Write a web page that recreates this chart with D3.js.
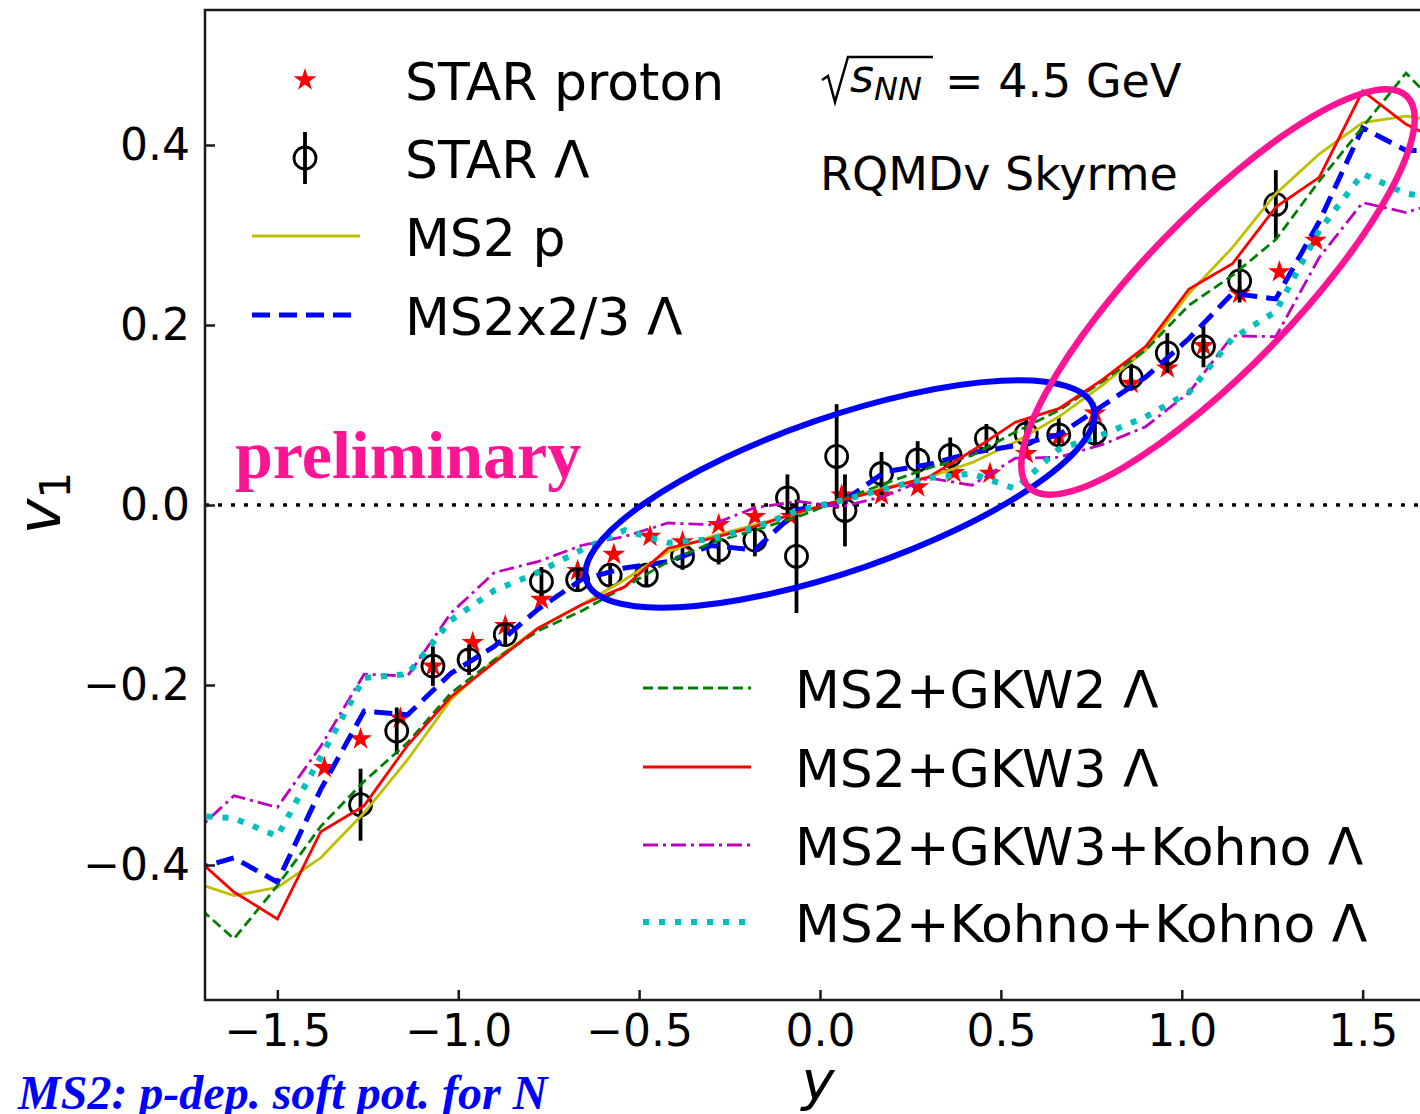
<!DOCTYPE html>
<html>
<head>
<meta charset="utf-8">
<script src="https://cdn.jsdelivr.net/npm/d3@7"></script>
<style>
body { margin: 0; background: #fff; overflow: hidden; }
svg { display: block; }
.axis text { font-family: "DejaVu Sans"; font-size: 44px; fill: #000; }
.axis line { stroke: #1a1a1a; stroke-width: 2.5; }
.lbl { font-family: "DejaVu Sans"; fill: #000; }
</style>
</head>
<body>
<div id="chart"></div>
<script>
// model rapidity grid (bins of 0.12)
const xModel = [-1.74, -1.62, -1.50, -1.38, -1.26, -1.14, -1.02, -0.90, -0.78, -0.66, -0.54, -0.42, -0.30, -0.18, -0.06,
                 0.06, 0.18, 0.30, 0.42, 0.54, 0.66, 0.78, 0.90, 1.02, 1.14, 1.26, 1.38, 1.50, 1.62, 1.74];

const ms2P = [-0.418, -0.434, -0.425, -0.392, -0.342, -0.283, -0.216, -0.172, -0.137, -0.111, -0.083, -0.052, -0.035, -0.022, -0.009,
               0.006, 0.019, 0.031, 0.047, 0.070, 0.098, 0.133, 0.172, 0.235, 0.286, 0.346, 0.390, 0.425, 0.432, 0.425];
const ms2Lambda = [-0.406, -0.392, -0.419, -0.316, -0.229, -0.233, -0.187, -0.157, -0.116, -0.083, -0.070, -0.063, -0.045, -0.050, -0.005,
                    0.003, 0.037, 0.045, 0.058, 0.066, 0.078, 0.110, 0.142, 0.185, 0.235, 0.229, 0.315, 0.419, 0.394, 0.394];
const gkw2 = [-0.439, -0.482, -0.423, -0.357, -0.307, -0.264, -0.209, -0.172, -0.140, -0.118, -0.091, -0.063, -0.042, -0.028, -0.013,
               0.006, 0.024, 0.041, 0.055, 0.081, 0.105, 0.137, 0.172, 0.222, 0.255, 0.295, 0.360, 0.420, 0.480, 0.430];
const gkw3 = [-0.387, -0.430, -0.460, -0.363, -0.334, -0.267, -0.213, -0.175, -0.137, -0.111, -0.091, -0.048, -0.037, -0.024, -0.008,
               0.005, 0.018, 0.031, 0.060, 0.092, 0.107, 0.139, 0.176, 0.240, 0.268, 0.331, 0.364, 0.460, 0.423, 0.400];
const gkw3Kohno = [-0.368, -0.323, -0.336, -0.268, -0.188, -0.190, -0.120, -0.075, -0.063, -0.045, -0.035, -0.020, -0.022, -0.003, 0.004,
                   -0.002, 0.010, 0.030, 0.022, 0.052, 0.053, 0.067, 0.087, 0.125, 0.188, 0.187, 0.275, 0.336, 0.325, 0.340];
const kohnoKohno = [-0.345, -0.348, -0.368, -0.280, -0.192, -0.188, -0.128, -0.095, -0.075, -0.050, -0.028, -0.042, -0.038, -0.025, -0.006,
                     0.005, 0.018, 0.030, 0.035, 0.018, 0.062, 0.078, 0.098, 0.125, 0.185, 0.215, 0.305, 0.368, 0.346, 0.340];

// STAR data
const protonY = [-1.37, -1.27, -1.16, -1.07, -0.96, -0.87, -0.77, -0.67, -0.57, -0.47, -0.38, -0.28, -0.18, -0.08,
                  0.06, 0.17, 0.27, 0.37, 0.47, 0.57, 0.66, 0.76, 0.86, 0.96, 1.06, 1.16, 1.27, 1.37];
const protonV1 = [-0.292, -0.260, -0.237, -0.179, -0.153, -0.134, -0.105, -0.073, -0.055, -0.035, -0.041, -0.022, -0.013, -0.013,
                   0.011, 0.011, 0.020, 0.036, 0.035, 0.057, 0.076, 0.102, 0.135, 0.152, 0.177, 0.235, 0.259, 0.294];

const lambdaY = [-1.27, -1.17, -1.07, -0.97, -0.87, -0.77, -0.67, -0.58, -0.48, -0.38, -0.28, -0.18, -0.09, -0.065,
                  0.046, 0.069, 0.17, 0.27, 0.36, 0.46, 0.57, 0.66, 0.76, 0.86, 0.96, 1.06, 1.16, 1.26];
const lambdaV1 = [-0.333, -0.251, -0.179, -0.172, -0.144, -0.085, -0.083, -0.078, -0.078, -0.057, -0.050, -0.039, 0.008, -0.057,
                   0.054, -0.006, 0.035, 0.050, 0.055, 0.074, 0.079, 0.078, 0.080, 0.142, 0.169, 0.176, 0.249, 0.334];
const lambdaErr = [0.040, 0.026, 0.022, 0.017, 0.013, 0.016, 0.012, 0.011, 0.012, 0.015, 0.016, 0.018, 0.026, 0.063,
                   0.058, 0.040, 0.024, 0.021, 0.020, 0.016, 0.016, 0.019, 0.016, 0.015, 0.022, 0.023, 0.024, 0.038];

const xTicks = [-1.5, -1.0, -0.5, 0.0, 0.5, 1.0, 1.5];
const yTicks = [-0.4, -0.2, 0.0, 0.2, 0.4];

const legendTop = ['STAR proton', 'STAR \u039B', 'MS2 p', 'MS2x2/3 \u039B'];
const legendBottom = ['MS2+GKW2 \u039B', 'MS2+GKW3 \u039B', 'MS2+GKW3+Kohno \u039B', 'MS2+Kohno+Kohno \u039B'];

const W = 1420, H = 1114;
const plot = { left: 205, right: 1435, top: 10, bottom: 1000 };

const svg = d3.select('#chart').append('svg')
    .attr('width', W).attr('height', H);

const x = d3.scaleLinear().domain([-1.7, 1.7]).range([plot.left, plot.right]);
const y = d3.scaleLinear().domain([-0.55, 0.55]).range([plot.bottom, plot.top]);

svg.append('clipPath').attr('id', 'clip')
  .append('rect')
    .attr('x', plot.left).attr('y', plot.top)
    .attr('width', plot.right - plot.left).attr('height', plot.bottom - plot.top);

const models = [
    { label: 'MS2 p', v: ms2P, color: '#bfbf00', width: 2.8, dash: null },
    { label: 'MS2x2/3', v: ms2Lambda, color: '#0000ff', width: 5, dash: '18 9' },
    { label: 'GKW2', v: gkw2, color: '#008000', width: 2.8, dash: '10 5' },
    { label: 'GKW3', v: gkw3, color: '#ff0000', width: 2.8, dash: null },
    { label: 'GKW3+Kohno', v: gkw3Kohno, color: '#bf00bf', width: 2.8, dash: '15 5 3 5' },
    { label: 'Kohno+Kohno', v: kohnoKohno, color: '#00bfbf', width: 6, dash: '6 10' }
];

const g = svg.append('g').attr('clip-path', 'url(#clip)');

// zero line
g.append('line')
    .attr('x1', plot.left).attr('x2', plot.right)
    .attr('y1', y(0)).attr('y2', y(0))
    .attr('stroke', '#000').attr('stroke-width', 3.5)
    .attr('stroke-dasharray', '4 9');

// STAR proton stars
const star = d3.symbol().type(d3.symbolStar).size(160);
g.selectAll('.pstar')
  .data(protonY.map((d, i) => ({ y: d, v: protonV1[i] })))
  .enter().append('path')
    .attr('class', 'pstar')
    .attr('d', star)
    .attr('transform', d => `translate(${x(d.y)},${y(d.v)})`)
    .attr('fill', '#ff0000');

// STAR Lambda with error bars
const lam = lambdaY.map((d, i) => ({ y: d, v: lambdaV1[i], e: lambdaErr[i] }));
g.selectAll('.lerr')
  .data(lam)
  .enter().append('line')
    .attr('x1', d => x(d.y)).attr('x2', d => x(d.y))
    .attr('y1', d => y(d.v - d.e)).attr('y2', d => y(d.v + d.e))
    .attr('stroke', '#000').attr('stroke-width', 3.8);
g.selectAll('.ldot')
  .data(lam)
  .enter().append('circle')
    .attr('cx', d => x(d.y)).attr('cy', d => y(d.v))
    .attr('r', 11)
    .attr('fill', 'none').attr('stroke', '#000').attr('stroke-width', 2.8);

// model curves
const line = d3.line().x((d, i) => x(xModel[i])).y(d => y(d));
models.forEach(m => {
    g.append('path')
        .datum(m.v)
        .attr('d', line)
        .attr('fill', 'none')
        .attr('stroke', m.color)
        .attr('stroke-width', m.width)
        .attr('stroke-dasharray', m.dash);
});

// axes
svg.append('g')
    .attr('class', 'axis')
    .attr('transform', `translate(0,${plot.bottom})`)
    .call(d3.axisBottom(x).tickValues(xTicks).tickFormat(d3.format('.1f')).tickSize(-10).tickPadding(15))
    .call(a => a.select('.domain').remove());

svg.append('g')
    .attr('class', 'axis')
    .attr('transform', `translate(${plot.left},0)`)
    .call(d3.axisLeft(y).tickValues(yTicks).tickFormat(d3.format('.1f')).tickSize(-10).tickPadding(15))
    .call(a => a.select('.domain').remove());

// spines
svg.append('path')
    .attr('d', `M${plot.right},${plot.top}H${plot.left}V${plot.bottom}H${plot.right}`)
    .attr('fill', 'none').attr('stroke', '#1a1a1a').attr('stroke-width', 2.5);

// axis labels
const yl = svg.append('text')
    .attr('class', 'lbl')
    .attr('transform', 'translate(60,503) rotate(-90)')
    .attr('text-anchor', 'middle')
    .style('font-size', '60px');
yl.append('tspan').style('font-style', 'italic').text('v');
yl.append('tspan').attr('dy', 10).style('font-size', '42px').text('1');

svg.append('text')
    .attr('class', 'lbl')
    .attr('x', 818).attr('y', 1100)
    .attr('text-anchor', 'middle')
    .style('font-size', '56px').style('font-style', 'italic')
    .text('y');

// top-left legend
const lg1 = svg.append('g');
const rows1 = [80, 158, 236, 315];
lg1.append('path').attr('d', star).attr('transform', `translate(305,${rows1[0]})`).attr('fill', '#ff0000');
lg1.append('line').attr('x1', 305).attr('x2', 305).attr('y1', rows1[1] - 26).attr('y2', rows1[1] + 26)
    .attr('stroke', '#000').attr('stroke-width', 3.8);
lg1.append('circle').attr('cx', 305).attr('cy', rows1[1]).attr('r', 11)
    .attr('fill', 'none').attr('stroke', '#000').attr('stroke-width', 2.8);
[models[0], models[1]].forEach((m, i) => {
    lg1.append('line')
        .attr('x1', 252).attr('x2', 360).attr('y1', rows1[i + 2]).attr('y2', rows1[i + 2])
        .attr('stroke', m.color).attr('stroke-width', m.width).attr('stroke-dasharray', m.dash);
});
lg1.selectAll('.t1').data(legendTop).enter().append('text')
    .attr('class', 'lbl')
    .attr('x', 405).attr('y', (d, i) => rows1[i] + 20)
    .style('font-size', '52px')
    .text(d => d);

// bottom-right legend
const lg2 = svg.append('g');
const rows2 = [688, 767, 845, 922];
models.slice(2).forEach((m, i) => {
    lg2.append('line')
        .attr('x1', 643).attr('x2', 751).attr('y1', rows2[i]).attr('y2', rows2[i])
        .attr('stroke', m.color).attr('stroke-width', m.width).attr('stroke-dasharray', m.dash);
});
lg2.selectAll('.t2').data(legendBottom).enter().append('text')
    .attr('class', 'lbl')
    .attr('x', 795).attr('y', (d, i) => rows2[i] + 20)
    .style('font-size', '52px')
    .text(d => d);

// energy and model annotation
svg.append('path')
    .attr('d', 'M822,80 L828,76 L835,102 L848,57 L933,57')
    .attr('fill', 'none').attr('stroke', '#000').attr('stroke-width', 2.5);
const sq = svg.append('text').attr('class', 'lbl').attr('x', 850).attr('y', 92).style('font-size', '46px');
sq.append('tspan').style('font-style', 'italic').text('s');
sq.append('tspan').attr('dy', 8).style('font-style', 'italic').style('font-size', '32px').text('NN');
svg.append('text').attr('class', 'lbl').attr('x', 945).attr('y', 97).style('font-size', '46px').text('= 4.5 GeV');
svg.append('text').attr('class', 'lbl').attr('x', 820).attr('y', 190).style('font-size', '46px').text('RQMDv Skyrme');

// overlays
svg.append('ellipse')
    .attr('transform', 'translate(840,494) rotate(-19)')
    .attr('rx', 268).attr('ry', 77)
    .attr('fill', 'none').attr('stroke', '#0000ff').attr('stroke-width', 6);
svg.append('ellipse')
    .attr('transform', 'translate(1218,292) rotate(-46)')
    .attr('rx', 272).attr('ry', 76)
    .attr('fill', 'none').attr('stroke', '#ff1493').attr('stroke-width', 6.5);

svg.append('text')
    .attr('x', 235).attr('y', 478)
    .style('font-family', '"Liberation Serif"').style('font-weight', 'bold')
    .style('font-size', '68px').style('fill', '#ff1493')
    .text('preliminary');

svg.append('text')
    .attr('x', 18).attr('y', 1109)
    .style('font-family', '"Liberation Serif"').style('font-weight', 'bold').style('font-style', 'italic')
    .style('font-size', '48px').style('fill', '#0000ff')
    .text('MS2: p-dep. soft pot. for N');
</script>
</body>
</html>
